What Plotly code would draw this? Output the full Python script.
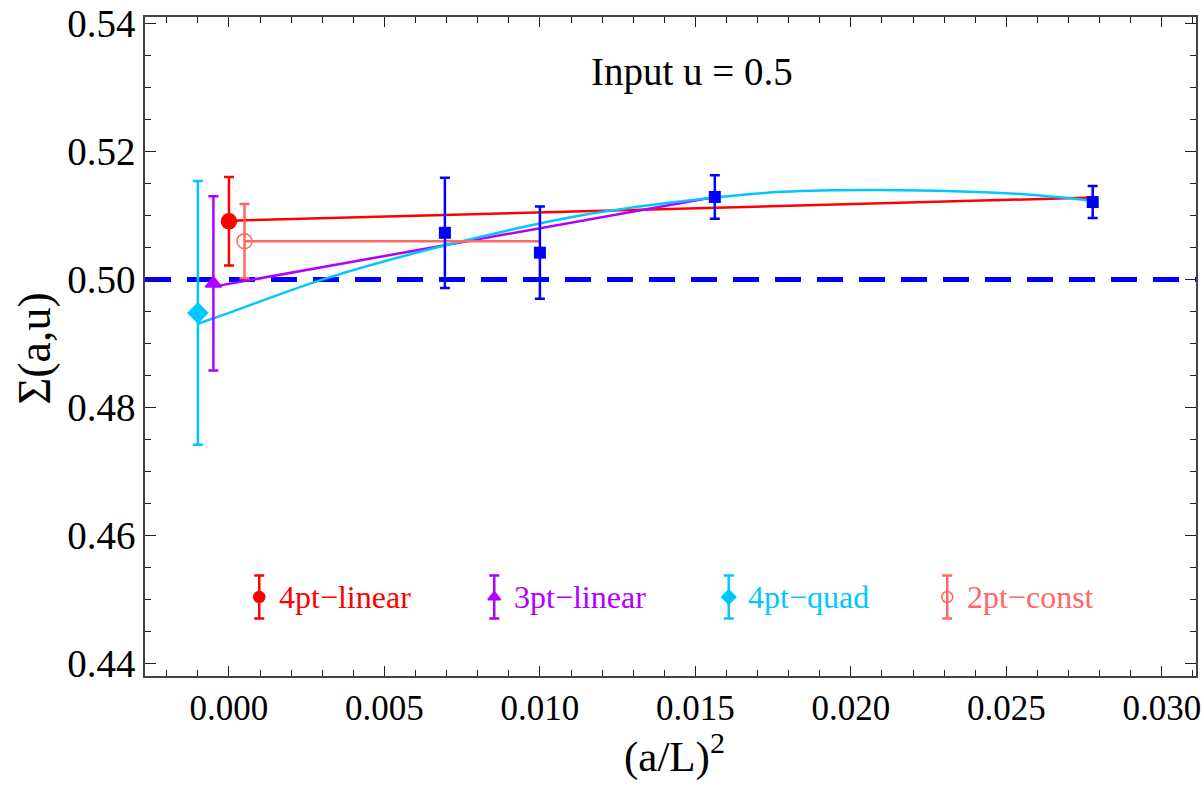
import plotly.graph_objects as go

# Lattice data: (a/L)^2 for L/a = 12, 10, 8, 6 and the step-scaling function
lat_x = [1 / 144, 1 / 100, 1 / 64, 1 / 36]
lat_y = [0.5073, 0.5042, 0.5129, 0.5121]
lat_err = [0.0086, 0.0072, 0.0034, 0.0025]

# Continuum extrapolations (plotted slightly offset around a/L = 0)
fit_names = ["4pt\u2212linear", "3pt\u2212linear", "4pt\u2212quad", "2pt\u2212const"]
fit_x = [0.0, -0.0005, -0.001, 0.0005]
fit_y = [0.5091, 0.4994, 0.4948, 0.5060]
fit_err = [0.0069, 0.0136, 0.0206, 0.0058]

# Fit curves
lin4_x = [0.0, 1 / 36]
lin4_y = [0.5092, 0.5128]
lin3_x = [-0.0005, 1 / 64]
lin3_y = [0.4989, 0.5129]
quad4_x = [-0.001, 0.0, 0.003, 0.007, 0.0113, 0.0145, 0.0178, 0.021, 0.0253, 1 / 36]
quad4_y = [0.4931, 0.4948, 0.5000, 0.5054, 0.5100, 0.5122, 0.5137, 0.5140, 0.5134, 0.5123]
const2_x = [0.0005, 0.01]
const2_y = [0.5060, 0.5060]

input_u = 0.5

x_ticks = [0.000, 0.005, 0.010, 0.015, 0.020, 0.025, 0.030]
x_tick_labels = ["0.000", "0.005", "0.010", "0.015", "0.020", "0.025", "0.030"]
y_ticks = [0.44, 0.46, 0.48, 0.50, 0.52, 0.54]
y_tick_labels = ["0.44", "0.46", "0.48", "0.50", "0.52", "0.54"]

RED = "#ff0000"
PURPLE = "#b000ff"
CYAN = "#00c8ff"
PINK = "#ff6666"
BLUE = "#0000ff"
colors = [RED, PURPLE, CYAN, PINK]
symbols = ["circle", "triangle-up", "diamond", "circle-open"]
sizes = [15, 14, 15, 15]

FONT = "Liberation Serif, Times New Roman, serif"

fig = go.Figure()

# reference line at the input coupling
fig.add_trace(go.Scatter(
    x=[-0.0027, 0.0311], y=[input_u, input_u], mode="lines",
    line=dict(color=BLUE, width=5, dash="26px,16px"), hoverinfo="skip"))

# fit curves
for cx, cy, col, shape in [
    (lin4_x, lin4_y, RED, "linear"),
    (lin3_x, lin3_y, PURPLE, "linear"),
    (quad4_x, quad4_y, CYAN, "spline"),
    (const2_x, const2_y, PINK, "linear"),
]:
    fig.add_trace(go.Scatter(x=cx, y=cy, mode="lines",
                             line=dict(color=col, width=2.5, shape=shape)))

# lattice points
fig.add_trace(go.Scatter(
    x=lat_x, y=lat_y, mode="markers",
    marker=dict(symbol="square", size=12, color=BLUE),
    error_y=dict(type="data", array=lat_err, color=BLUE, thickness=2.5, width=5)))

# extrapolated values
for i in range(len(fit_names)):
    fig.add_trace(go.Scatter(
        x=[fit_x[i]], y=[fit_y[i]], mode="markers",
        marker=dict(symbol=symbols[i], size=sizes[i], color=colors[i],
                    line=dict(color=colors[i], width=1.5)),
        error_y=dict(type="data", array=[fit_err[i]], color=colors[i],
                     thickness=2.5, width=5)))

# legend row drawn on an overlay axis spanning the plot area
leg_x = [0.1087, 0.3323, 0.5554, 0.7633]
leg_y = 0.1199
for i in range(len(fit_names)):
    fig.add_trace(go.Scatter(
        x=[leg_x[i]], y=[leg_y], xaxis="x2", yaxis="y2", mode="markers",
        marker=dict(symbol=symbols[i], size=11, color=colors[i],
                    line=dict(color=colors[i], width=1.5)),
        error_y=dict(type="data", array=[0.0326], color=colors[i],
                     thickness=2.5, width=5)))
    fig.add_annotation(x=leg_x[i] + 0.0165, y=leg_y, xref="x2", yref="y2",
                       text=fit_names[i], showarrow=False, xanchor="left",
                       yanchor="middle", font=dict(family=FONT, size=32, color=colors[i]))

fig.add_annotation(x=0.0149, y=0.5324, xref="x", yref="y", text="Input u = 0.5",
                   showarrow=False, xanchor="center", yanchor="middle",
                   font=dict(family=FONT, size=39, color="black"))

fig.add_annotation(x=-0.1056, y=0.497, xref="paper", yref="paper", text="\u03a3(a,u)",
                   showarrow=False, textangle=-90, xanchor="center", yanchor="middle",
                   font=dict(family=FONT, size=46, color="black"))
fig.add_annotation(x=0.504, y=-0.117, xref="paper", yref="paper", text="(a/L)<sup>2</sup>",
                   showarrow=False, xanchor="center", yanchor="middle",
                   font=dict(family=FONT, size=43, color="black"))

axis_common = dict(
    showgrid=False, zeroline=False, showline=True, linecolor="#444", linewidth=1.5,
    mirror="allticks", ticks="inside", tickcolor="#222", tickwidth=1.2,
    automargin=False,
)

fig.update_layout(
    width=1203, height=787,
    margin=dict(l=145, r=7, t=17, b=111, autoexpand=False),
    plot_bgcolor="white", paper_bgcolor="white",
    showlegend=False,
    xaxis=dict(range=[-0.0027, 0.0311], tickmode="array", tickvals=x_ticks,
               ticktext=x_tick_labels,
               tickfont=dict(family=FONT, size=35, color="black"),
               ticklen=10, minor=dict(dtick=0.001, ticklen=6, ticks="inside",
                                      tickcolor="#222", tickwidth=1.2),
               **axis_common),
    yaxis=dict(range=[0.4381, 0.541], tickmode="array", tickvals=y_ticks,
               ticktext=y_tick_labels,
               tickfont=dict(family=FONT, size=39, color="black"),
               ticklen=11, minor=dict(dtick=0.005, ticklen=6, ticks="inside",
                                      tickcolor="#222", tickwidth=1.2),
               **axis_common),
    xaxis2=dict(overlaying="x", range=[0, 1], visible=False, fixedrange=True),
    yaxis2=dict(overlaying="y", range=[0, 1], visible=False, fixedrange=True),
)

fig.write_html("out.html")
